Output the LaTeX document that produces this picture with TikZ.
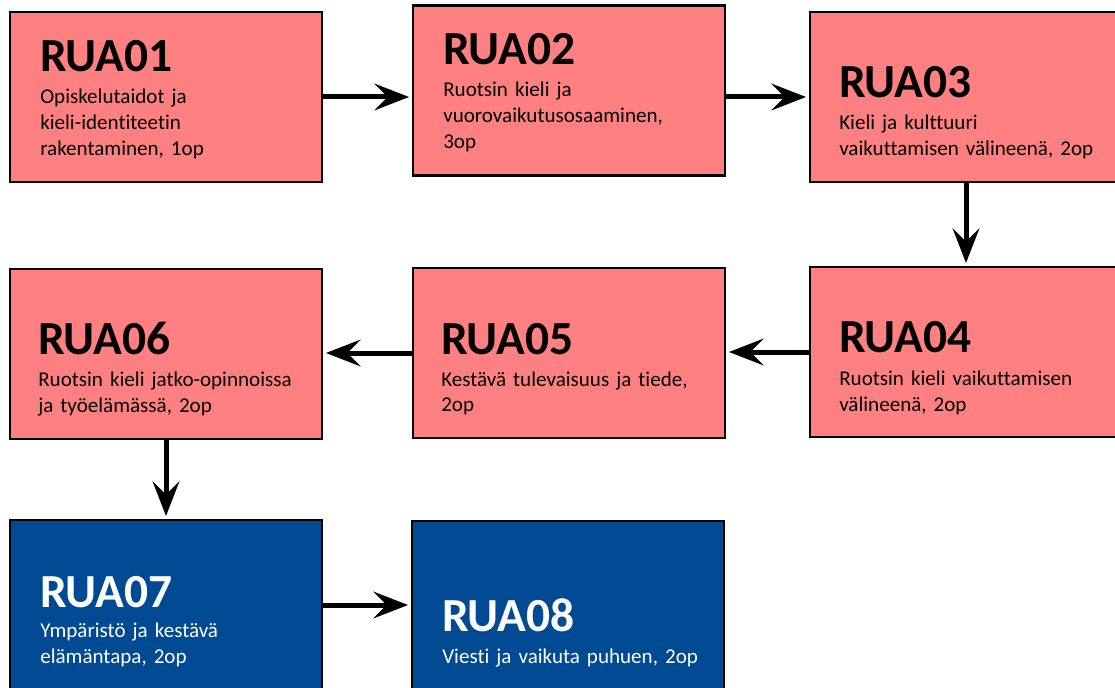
\documentclass[tikz,border=0pt]{standalone}
\usepackage{fontspec}
\setmainfont{Carlito}[Ligatures=NoCommon]
\usetikzlibrary{arrows.meta}
\definecolor{ruapink}{HTML}{FF8080}
\definecolor{ruablue}{HTML}{004A94}
\begin{document}
\begin{tikzpicture}[x=0.75pt,y=-0.75pt,
           box_style/.style={rectangle,draw=black,line width=1.9pt,fill=ruapink,minimum width=234pt,minimum height=127.5pt,inner sep=0pt},
           box_style_blue/.style={box_style,fill=ruablue},
           title_style/.style={anchor=base west,inner sep=0pt,font=\fontsize{35.6}{40}\selectfont\bfseries},
           desc_style/.style={anchor=base west,inner sep=0pt,text width=260pt,align=left,font=\fontsize{15.8}{19.5}\selectfont},
           arrow_style/.style={draw=black,line width=3.75pt,-{Stealth[length=26pt,width=20pt,inset=10pt]},shorten >=2pt}]
            \useasboundingbox (0,0) rectangle (1115,688);
            \node[box_style] (r1) at (166, 97)  {};
            \node[box_style] (r2) at (569, 90.5)  {};
            \node[box_style] (r3) at (966, 97)  {};
            \node[box_style] (r4) at (966, 352)  {};
            \node[box_style] (r5) at (569, 353)  {};
            \node[box_style] (r6) at (166, 354)  {};
            \node[box_style_blue] (r7) at (166, 605)  {};
            \node[box_style_blue] (r8) at (568, 606)  {};
            \node[title_style] (t1) at (40, 72)  {RUA01};
            \node[title_style] (t2) at (443, 65)  {RUA02};
            \node[title_style] (t3) at (839, 98)  {RUA03};
            \node[title_style] (t4) at (839, 353)  {RUA04};
            \node[title_style] (t5) at (441, 354)  {RUA05};
            \node[title_style] (t6) at (38, 354)  {RUA06};
            \node[title_style,text=white] (t7) at (40, 607)  {RUA07};
            \node[title_style,text=white] (t8) at (442, 631)  {RUA08};
            \node[desc_style] (d1) at (40, 104)  {Opiskelutaidot ja\\kieli-identiteetin\\rakentaminen, 1op};
            \node[desc_style] (d2) at (443, 97)  {Ruotsin kieli ja\\vuorovaikutusosaaminen,\\3op};
            \node[desc_style] (d3) at (839, 130)  {Kieli ja kulttuuri\\vaikuttamisen välineenä, 2op};
            \node[desc_style] (d4) at (839, 385)  {Ruotsin kieli vaikuttamisen\\välineenä, 2op};
            \node[desc_style] (d5) at (441, 386)  {Kestävä tulevaisuus ja tiede,\\2op};
            \node[desc_style] (d6) at (38, 387)  {Ruotsin kieli jatko-opinnoissa\\ja työelämässä, 2op};
            \node[desc_style,text=white] (d7) at (40, 637)  {Ympäristö ja kestävä\\elämäntapa, 2op};
            \node[desc_style,text=white] (d8) at (442, 663)  {Viesti ja vaikuta puhuen, 2op};
            \draw[arrow_style]  (r1.east) -- (r1.east -| r2.west);
            \draw[arrow_style]  (r3.west -| r2.east) -- (r3.west);
            \draw[arrow_style]  (r3.south) -- (r4.north);
            \draw[arrow_style]  (r4.west) -- (r4.west -| r5.east);
            \draw[arrow_style]  (r5.west) -- (r5.west -| r6.east);
            \draw[arrow_style]  (r6.south) -- (r7.north);
            \draw[arrow_style]  (r7.east) -- (r7.east -| r8.west);
        \end{tikzpicture}
\end{document}
